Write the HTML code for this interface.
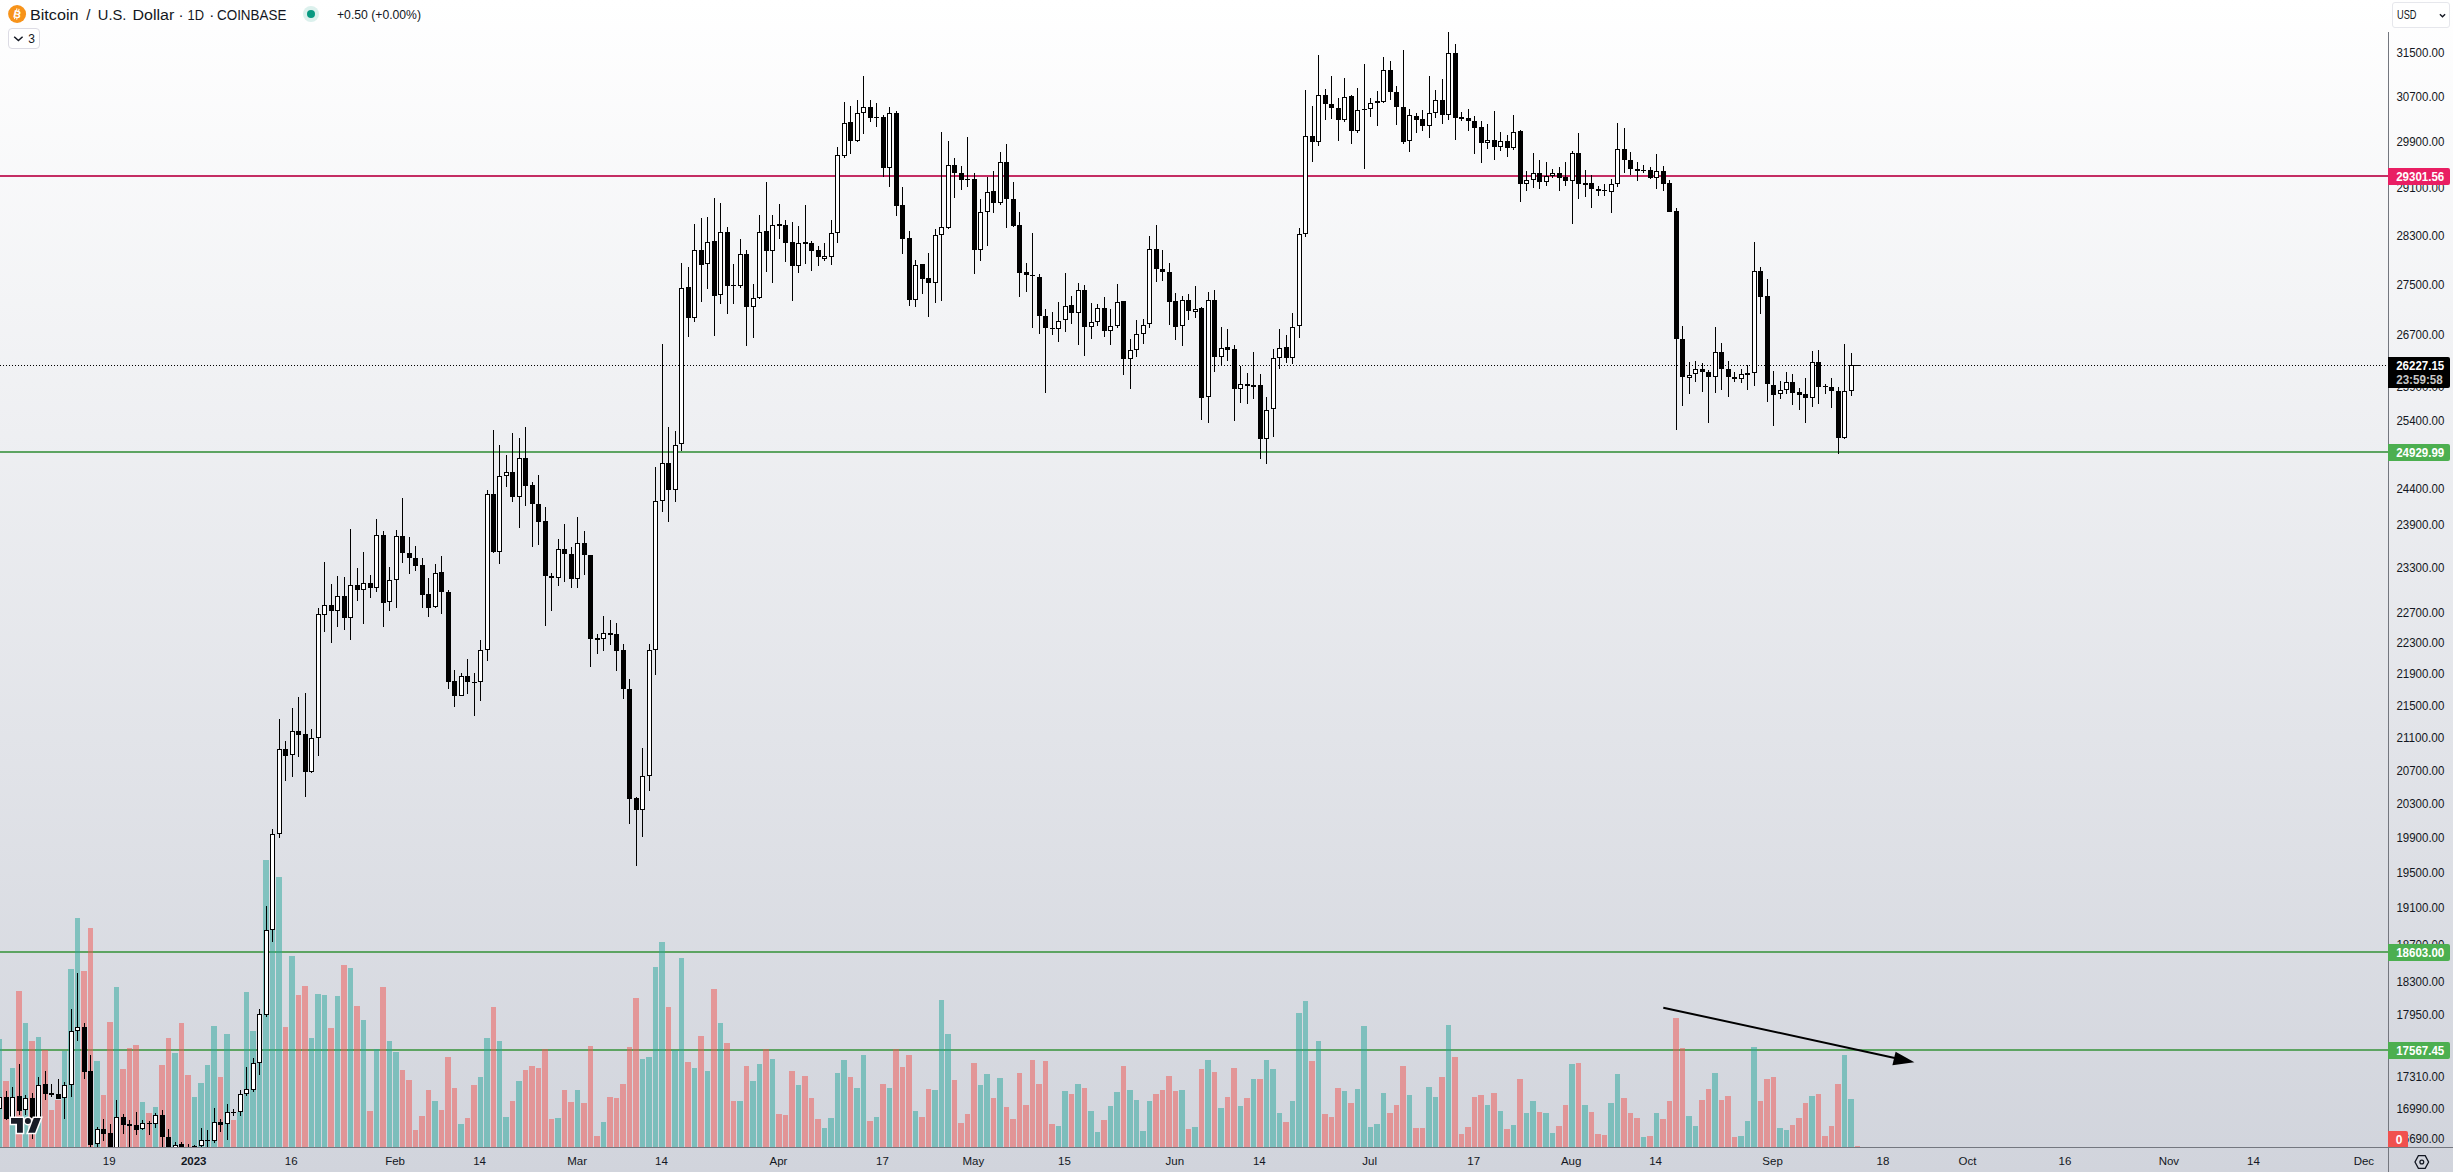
<!DOCTYPE html>
<html lang="en">
<head>
<meta charset="utf-8">
<title>Bitcoin / U.S. Dollar · 1D · COINBASE</title>
<style>
html,body{margin:0;padding:0;}
body{width:2453px;height:1172px;overflow:hidden;background:#d1d4dc;font-family:"Liberation Sans",sans-serif;}
#chart{position:absolute;left:0;top:0;width:2453px;height:1172px;background:linear-gradient(180deg,#ffffff 0%,#d1d4dc 100%);}
svg{position:absolute;left:0;top:0;}
svg text{font-family:"Liberation Sans",sans-serif;}
</style>
</head>
<body>
<div id="chart">
<svg width="2453" height="1172" viewBox="0 0 2453 1172">
<defs>
<clipPath id="pane"><rect x="0" y="0" width="2388" height="1147"/></clipPath>
</defs>
<g shape-rendering="crispEdges">
<!-- horizontal levels -->
<rect x="0" y="175" width="2388" height="2" fill="#c42d64"/>
<rect x="0" y="451" width="2388" height="2" fill="#5da462"/>
<rect x="0" y="951" width="2388" height="2" fill="#5da462"/>
<rect x="0" y="1049" width="2388" height="2" fill="#5da462"/>
<line x1="0" y1="365.5" x2="2388" y2="365.5" stroke="#000" stroke-width="1" stroke-dasharray="1 2"/>
</g>
<g id="volume" shape-rendering="crispEdges" clip-path="url(#pane)">
<rect x="-3" y="1039" width="5" height="108" fill="rgba(38,166,154,0.5)"/>
<rect x="3" y="1081" width="6" height="66" fill="rgba(239,83,80,0.5)"/>
<rect x="10" y="1068" width="5" height="79" fill="rgba(38,166,154,0.5)"/>
<rect x="16" y="991" width="6" height="156" fill="rgba(239,83,80,0.5)"/>
<rect x="23" y="1023" width="5" height="124" fill="rgba(38,166,154,0.5)"/>
<rect x="29" y="1041" width="6" height="106" fill="rgba(239,83,80,0.5)"/>
<rect x="36" y="1037" width="5" height="110" fill="rgba(38,166,154,0.5)"/>
<rect x="42" y="1050" width="6" height="97" fill="rgba(239,83,80,0.5)"/>
<rect x="49" y="1110" width="5" height="37" fill="rgba(239,83,80,0.5)"/>
<rect x="55" y="1100" width="6" height="47" fill="rgba(239,83,80,0.5)"/>
<rect x="62" y="1051" width="5" height="96" fill="rgba(38,166,154,0.5)"/>
<rect x="68" y="969" width="6" height="178" fill="rgba(38,166,154,0.5)"/>
<rect x="75" y="918" width="5" height="229" fill="rgba(38,166,154,0.5)"/>
<rect x="81" y="971" width="6" height="176" fill="rgba(239,83,80,0.5)"/>
<rect x="88" y="928" width="5" height="219" fill="rgba(239,83,80,0.5)"/>
<rect x="94" y="1061" width="6" height="86" fill="rgba(38,166,154,0.5)"/>
<rect x="101" y="1095" width="5" height="52" fill="rgba(239,83,80,0.5)"/>
<rect x="107" y="1022" width="6" height="125" fill="rgba(239,83,80,0.5)"/>
<rect x="114" y="987" width="5" height="160" fill="rgba(38,166,154,0.5)"/>
<rect x="120" y="1069" width="6" height="78" fill="rgba(239,83,80,0.5)"/>
<rect x="127" y="1048" width="5" height="99" fill="rgba(239,83,80,0.5)"/>
<rect x="133" y="1045" width="6" height="102" fill="rgba(239,83,80,0.5)"/>
<rect x="140" y="1102" width="5" height="45" fill="rgba(38,166,154,0.5)"/>
<rect x="146" y="1113" width="6" height="34" fill="rgba(239,83,80,0.5)"/>
<rect x="153" y="1107" width="5" height="40" fill="rgba(38,166,154,0.5)"/>
<rect x="159" y="1065" width="6" height="82" fill="rgba(239,83,80,0.5)"/>
<rect x="166" y="1038" width="5" height="109" fill="rgba(239,83,80,0.5)"/>
<rect x="172" y="1053" width="6" height="94" fill="rgba(38,166,154,0.5)"/>
<rect x="179" y="1023" width="5" height="124" fill="rgba(239,83,80,0.5)"/>
<rect x="185" y="1075" width="6" height="72" fill="rgba(239,83,80,0.5)"/>
<rect x="192" y="1097" width="5" height="50" fill="rgba(38,166,154,0.5)"/>
<rect x="198" y="1083" width="6" height="64" fill="rgba(38,166,154,0.5)"/>
<rect x="205" y="1065" width="5" height="82" fill="rgba(38,166,154,0.5)"/>
<rect x="211" y="1026" width="6" height="121" fill="rgba(38,166,154,0.5)"/>
<rect x="218" y="1077" width="5" height="70" fill="rgba(239,83,80,0.5)"/>
<rect x="224" y="1034" width="6" height="113" fill="rgba(38,166,154,0.5)"/>
<rect x="231" y="1120" width="5" height="27" fill="rgba(239,83,80,0.5)"/>
<rect x="237" y="1112" width="6" height="35" fill="rgba(38,166,154,0.5)"/>
<rect x="244" y="992" width="5" height="155" fill="rgba(38,166,154,0.5)"/>
<rect x="250" y="1031" width="6" height="116" fill="rgba(38,166,154,0.5)"/>
<rect x="257" y="1021" width="5" height="126" fill="rgba(38,166,154,0.5)"/>
<rect x="263" y="860" width="6" height="287" fill="rgba(38,166,154,0.5)"/>
<rect x="270" y="871" width="5" height="276" fill="rgba(38,166,154,0.5)"/>
<rect x="276" y="877" width="6" height="270" fill="rgba(38,166,154,0.5)"/>
<rect x="283" y="1027" width="5" height="120" fill="rgba(239,83,80,0.5)"/>
<rect x="289" y="956" width="6" height="191" fill="rgba(38,166,154,0.5)"/>
<rect x="296" y="995" width="5" height="152" fill="rgba(239,83,80,0.5)"/>
<rect x="302" y="986" width="6" height="161" fill="rgba(239,83,80,0.5)"/>
<rect x="309" y="1038" width="5" height="109" fill="rgba(38,166,154,0.5)"/>
<rect x="315" y="994" width="6" height="153" fill="rgba(38,166,154,0.5)"/>
<rect x="322" y="995" width="5" height="152" fill="rgba(38,166,154,0.5)"/>
<rect x="328" y="1028" width="6" height="119" fill="rgba(239,83,80,0.5)"/>
<rect x="335" y="996" width="5" height="151" fill="rgba(38,166,154,0.5)"/>
<rect x="341" y="965" width="6" height="182" fill="rgba(239,83,80,0.5)"/>
<rect x="348" y="968" width="5" height="179" fill="rgba(38,166,154,0.5)"/>
<rect x="354" y="1006" width="6" height="141" fill="rgba(239,83,80,0.5)"/>
<rect x="361" y="1020" width="5" height="127" fill="rgba(38,166,154,0.5)"/>
<rect x="367" y="1111" width="6" height="36" fill="rgba(239,83,80,0.5)"/>
<rect x="374" y="1049" width="5" height="98" fill="rgba(38,166,154,0.5)"/>
<rect x="380" y="987" width="6" height="160" fill="rgba(239,83,80,0.5)"/>
<rect x="387" y="1041" width="5" height="106" fill="rgba(38,166,154,0.5)"/>
<rect x="393" y="1052" width="6" height="95" fill="rgba(38,166,154,0.5)"/>
<rect x="400" y="1070" width="5" height="77" fill="rgba(239,83,80,0.5)"/>
<rect x="406" y="1080" width="6" height="67" fill="rgba(239,83,80,0.5)"/>
<rect x="413" y="1130" width="5" height="17" fill="rgba(239,83,80,0.5)"/>
<rect x="419" y="1116" width="6" height="31" fill="rgba(239,83,80,0.5)"/>
<rect x="426" y="1090" width="5" height="57" fill="rgba(239,83,80,0.5)"/>
<rect x="432" y="1101" width="6" height="46" fill="rgba(38,166,154,0.5)"/>
<rect x="439" y="1110" width="5" height="37" fill="rgba(239,83,80,0.5)"/>
<rect x="445" y="1057" width="6" height="90" fill="rgba(239,83,80,0.5)"/>
<rect x="452" y="1088" width="5" height="59" fill="rgba(239,83,80,0.5)"/>
<rect x="458" y="1124" width="6" height="23" fill="rgba(38,166,154,0.5)"/>
<rect x="465" y="1118" width="5" height="29" fill="rgba(239,83,80,0.5)"/>
<rect x="471" y="1085" width="6" height="62" fill="rgba(239,83,80,0.5)"/>
<rect x="478" y="1077" width="5" height="70" fill="rgba(38,166,154,0.5)"/>
<rect x="484" y="1038" width="6" height="109" fill="rgba(38,166,154,0.5)"/>
<rect x="491" y="1007" width="5" height="140" fill="rgba(239,83,80,0.5)"/>
<rect x="497" y="1041" width="5" height="106" fill="rgba(38,166,154,0.5)"/>
<rect x="503" y="1117" width="6" height="30" fill="rgba(38,166,154,0.5)"/>
<rect x="510" y="1101" width="5" height="46" fill="rgba(239,83,80,0.5)"/>
<rect x="516" y="1081" width="6" height="66" fill="rgba(38,166,154,0.5)"/>
<rect x="523" y="1070" width="5" height="77" fill="rgba(239,83,80,0.5)"/>
<rect x="529" y="1066" width="6" height="81" fill="rgba(239,83,80,0.5)"/>
<rect x="536" y="1068" width="5" height="79" fill="rgba(239,83,80,0.5)"/>
<rect x="542" y="1049" width="6" height="98" fill="rgba(239,83,80,0.5)"/>
<rect x="549" y="1119" width="5" height="28" fill="rgba(239,83,80,0.5)"/>
<rect x="555" y="1118" width="6" height="29" fill="rgba(38,166,154,0.5)"/>
<rect x="562" y="1090" width="5" height="57" fill="rgba(239,83,80,0.5)"/>
<rect x="568" y="1102" width="6" height="45" fill="rgba(239,83,80,0.5)"/>
<rect x="575" y="1090" width="5" height="57" fill="rgba(38,166,154,0.5)"/>
<rect x="581" y="1103" width="6" height="44" fill="rgba(239,83,80,0.5)"/>
<rect x="588" y="1046" width="5" height="101" fill="rgba(239,83,80,0.5)"/>
<rect x="594" y="1136" width="6" height="11" fill="rgba(239,83,80,0.5)"/>
<rect x="601" y="1122" width="5" height="25" fill="rgba(38,166,154,0.5)"/>
<rect x="607" y="1097" width="6" height="50" fill="rgba(239,83,80,0.5)"/>
<rect x="614" y="1098" width="5" height="49" fill="rgba(239,83,80,0.5)"/>
<rect x="620" y="1084" width="6" height="63" fill="rgba(239,83,80,0.5)"/>
<rect x="627" y="1047" width="5" height="100" fill="rgba(239,83,80,0.5)"/>
<rect x="633" y="998" width="6" height="149" fill="rgba(239,83,80,0.5)"/>
<rect x="640" y="1059" width="5" height="88" fill="rgba(38,166,154,0.5)"/>
<rect x="646" y="1057" width="6" height="90" fill="rgba(38,166,154,0.5)"/>
<rect x="653" y="967" width="5" height="180" fill="rgba(38,166,154,0.5)"/>
<rect x="659" y="942" width="6" height="205" fill="rgba(38,166,154,0.5)"/>
<rect x="666" y="1007" width="5" height="140" fill="rgba(239,83,80,0.5)"/>
<rect x="672" y="1050" width="6" height="97" fill="rgba(38,166,154,0.5)"/>
<rect x="679" y="958" width="5" height="189" fill="rgba(38,166,154,0.5)"/>
<rect x="685" y="1062" width="6" height="85" fill="rgba(239,83,80,0.5)"/>
<rect x="692" y="1068" width="5" height="79" fill="rgba(38,166,154,0.5)"/>
<rect x="698" y="1036" width="6" height="111" fill="rgba(239,83,80,0.5)"/>
<rect x="705" y="1071" width="5" height="76" fill="rgba(38,166,154,0.5)"/>
<rect x="711" y="989" width="6" height="158" fill="rgba(239,83,80,0.5)"/>
<rect x="718" y="1023" width="5" height="124" fill="rgba(38,166,154,0.5)"/>
<rect x="724" y="1043" width="6" height="104" fill="rgba(239,83,80,0.5)"/>
<rect x="731" y="1101" width="5" height="46" fill="rgba(239,83,80,0.5)"/>
<rect x="737" y="1101" width="6" height="46" fill="rgba(38,166,154,0.5)"/>
<rect x="744" y="1066" width="5" height="81" fill="rgba(239,83,80,0.5)"/>
<rect x="750" y="1081" width="6" height="66" fill="rgba(38,166,154,0.5)"/>
<rect x="757" y="1064" width="5" height="83" fill="rgba(38,166,154,0.5)"/>
<rect x="763" y="1049" width="6" height="98" fill="rgba(239,83,80,0.5)"/>
<rect x="770" y="1059" width="5" height="88" fill="rgba(38,166,154,0.5)"/>
<rect x="776" y="1114" width="6" height="33" fill="rgba(239,83,80,0.5)"/>
<rect x="783" y="1115" width="5" height="32" fill="rgba(239,83,80,0.5)"/>
<rect x="789" y="1071" width="6" height="76" fill="rgba(239,83,80,0.5)"/>
<rect x="796" y="1085" width="5" height="62" fill="rgba(38,166,154,0.5)"/>
<rect x="802" y="1076" width="6" height="71" fill="rgba(239,83,80,0.5)"/>
<rect x="809" y="1098" width="5" height="49" fill="rgba(239,83,80,0.5)"/>
<rect x="815" y="1119" width="6" height="28" fill="rgba(239,83,80,0.5)"/>
<rect x="822" y="1128" width="5" height="19" fill="rgba(38,166,154,0.5)"/>
<rect x="828" y="1118" width="6" height="29" fill="rgba(38,166,154,0.5)"/>
<rect x="835" y="1073" width="5" height="74" fill="rgba(38,166,154,0.5)"/>
<rect x="841" y="1060" width="6" height="87" fill="rgba(38,166,154,0.5)"/>
<rect x="848" y="1077" width="5" height="70" fill="rgba(239,83,80,0.5)"/>
<rect x="854" y="1088" width="6" height="59" fill="rgba(38,166,154,0.5)"/>
<rect x="861" y="1055" width="5" height="92" fill="rgba(38,166,154,0.5)"/>
<rect x="867" y="1121" width="6" height="26" fill="rgba(239,83,80,0.5)"/>
<rect x="874" y="1117" width="5" height="30" fill="rgba(38,166,154,0.5)"/>
<rect x="880" y="1084" width="6" height="63" fill="rgba(239,83,80,0.5)"/>
<rect x="887" y="1088" width="5" height="59" fill="rgba(38,166,154,0.5)"/>
<rect x="893" y="1049" width="6" height="98" fill="rgba(239,83,80,0.5)"/>
<rect x="900" y="1067" width="5" height="80" fill="rgba(239,83,80,0.5)"/>
<rect x="906" y="1055" width="6" height="92" fill="rgba(239,83,80,0.5)"/>
<rect x="913" y="1111" width="5" height="36" fill="rgba(38,166,154,0.5)"/>
<rect x="919" y="1117" width="6" height="30" fill="rgba(239,83,80,0.5)"/>
<rect x="926" y="1089" width="5" height="58" fill="rgba(239,83,80,0.5)"/>
<rect x="932" y="1090" width="6" height="57" fill="rgba(38,166,154,0.5)"/>
<rect x="939" y="1000" width="5" height="147" fill="rgba(38,166,154,0.5)"/>
<rect x="945" y="1034" width="6" height="113" fill="rgba(38,166,154,0.5)"/>
<rect x="952" y="1080" width="5" height="67" fill="rgba(239,83,80,0.5)"/>
<rect x="958" y="1123" width="6" height="24" fill="rgba(239,83,80,0.5)"/>
<rect x="965" y="1114" width="5" height="33" fill="rgba(239,83,80,0.5)"/>
<rect x="971" y="1063" width="6" height="84" fill="rgba(239,83,80,0.5)"/>
<rect x="978" y="1085" width="5" height="62" fill="rgba(38,166,154,0.5)"/>
<rect x="984" y="1074" width="6" height="73" fill="rgba(38,166,154,0.5)"/>
<rect x="991" y="1098" width="5" height="49" fill="rgba(239,83,80,0.5)"/>
<rect x="997" y="1078" width="6" height="69" fill="rgba(38,166,154,0.5)"/>
<rect x="1004" y="1107" width="5" height="40" fill="rgba(239,83,80,0.5)"/>
<rect x="1010" y="1119" width="6" height="28" fill="rgba(239,83,80,0.5)"/>
<rect x="1017" y="1073" width="5" height="74" fill="rgba(239,83,80,0.5)"/>
<rect x="1023" y="1105" width="6" height="42" fill="rgba(239,83,80,0.5)"/>
<rect x="1030" y="1060" width="5" height="87" fill="rgba(239,83,80,0.5)"/>
<rect x="1036" y="1084" width="6" height="63" fill="rgba(239,83,80,0.5)"/>
<rect x="1043" y="1061" width="5" height="86" fill="rgba(239,83,80,0.5)"/>
<rect x="1049" y="1124" width="6" height="23" fill="rgba(239,83,80,0.5)"/>
<rect x="1056" y="1126" width="5" height="21" fill="rgba(38,166,154,0.5)"/>
<rect x="1062" y="1091" width="6" height="56" fill="rgba(38,166,154,0.5)"/>
<rect x="1069" y="1094" width="5" height="53" fill="rgba(239,83,80,0.5)"/>
<rect x="1075" y="1084" width="6" height="63" fill="rgba(38,166,154,0.5)"/>
<rect x="1082" y="1088" width="5" height="59" fill="rgba(239,83,80,0.5)"/>
<rect x="1088" y="1111" width="6" height="36" fill="rgba(38,166,154,0.5)"/>
<rect x="1095" y="1132" width="5" height="15" fill="rgba(38,166,154,0.5)"/>
<rect x="1101" y="1120" width="6" height="27" fill="rgba(239,83,80,0.5)"/>
<rect x="1108" y="1106" width="5" height="41" fill="rgba(38,166,154,0.5)"/>
<rect x="1114" y="1092" width="6" height="55" fill="rgba(38,166,154,0.5)"/>
<rect x="1121" y="1066" width="5" height="81" fill="rgba(239,83,80,0.5)"/>
<rect x="1127" y="1090" width="6" height="57" fill="rgba(38,166,154,0.5)"/>
<rect x="1134" y="1100" width="5" height="47" fill="rgba(38,166,154,0.5)"/>
<rect x="1140" y="1131" width="6" height="16" fill="rgba(38,166,154,0.5)"/>
<rect x="1147" y="1101" width="5" height="46" fill="rgba(38,166,154,0.5)"/>
<rect x="1153" y="1094" width="6" height="53" fill="rgba(239,83,80,0.5)"/>
<rect x="1160" y="1090" width="5" height="57" fill="rgba(239,83,80,0.5)"/>
<rect x="1166" y="1076" width="6" height="71" fill="rgba(239,83,80,0.5)"/>
<rect x="1173" y="1091" width="5" height="56" fill="rgba(239,83,80,0.5)"/>
<rect x="1179" y="1090" width="6" height="57" fill="rgba(38,166,154,0.5)"/>
<rect x="1186" y="1129" width="5" height="18" fill="rgba(239,83,80,0.5)"/>
<rect x="1192" y="1127" width="6" height="20" fill="rgba(38,166,154,0.5)"/>
<rect x="1199" y="1069" width="5" height="78" fill="rgba(239,83,80,0.5)"/>
<rect x="1205" y="1060" width="6" height="87" fill="rgba(38,166,154,0.5)"/>
<rect x="1212" y="1072" width="5" height="75" fill="rgba(239,83,80,0.5)"/>
<rect x="1218" y="1108" width="6" height="39" fill="rgba(38,166,154,0.5)"/>
<rect x="1225" y="1097" width="5" height="50" fill="rgba(239,83,80,0.5)"/>
<rect x="1231" y="1068" width="6" height="79" fill="rgba(239,83,80,0.5)"/>
<rect x="1238" y="1106" width="5" height="41" fill="rgba(38,166,154,0.5)"/>
<rect x="1244" y="1098" width="6" height="49" fill="rgba(239,83,80,0.5)"/>
<rect x="1251" y="1079" width="5" height="68" fill="rgba(38,166,154,0.5)"/>
<rect x="1257" y="1079" width="6" height="68" fill="rgba(239,83,80,0.5)"/>
<rect x="1264" y="1060" width="5" height="87" fill="rgba(38,166,154,0.5)"/>
<rect x="1270" y="1069" width="6" height="78" fill="rgba(38,166,154,0.5)"/>
<rect x="1277" y="1113" width="5" height="34" fill="rgba(38,166,154,0.5)"/>
<rect x="1283" y="1122" width="6" height="25" fill="rgba(239,83,80,0.5)"/>
<rect x="1290" y="1101" width="5" height="46" fill="rgba(38,166,154,0.5)"/>
<rect x="1296" y="1013" width="6" height="134" fill="rgba(38,166,154,0.5)"/>
<rect x="1303" y="1001" width="5" height="146" fill="rgba(38,166,154,0.5)"/>
<rect x="1309" y="1061" width="6" height="86" fill="rgba(239,83,80,0.5)"/>
<rect x="1316" y="1041" width="5" height="106" fill="rgba(38,166,154,0.5)"/>
<rect x="1322" y="1114" width="6" height="33" fill="rgba(239,83,80,0.5)"/>
<rect x="1329" y="1117" width="5" height="30" fill="rgba(239,83,80,0.5)"/>
<rect x="1335" y="1088" width="6" height="59" fill="rgba(239,83,80,0.5)"/>
<rect x="1342" y="1091" width="5" height="56" fill="rgba(38,166,154,0.5)"/>
<rect x="1348" y="1103" width="6" height="44" fill="rgba(239,83,80,0.5)"/>
<rect x="1355" y="1089" width="5" height="58" fill="rgba(38,166,154,0.5)"/>
<rect x="1361" y="1026" width="6" height="121" fill="rgba(38,166,154,0.5)"/>
<rect x="1368" y="1127" width="5" height="20" fill="rgba(38,166,154,0.5)"/>
<rect x="1374" y="1124" width="6" height="23" fill="rgba(38,166,154,0.5)"/>
<rect x="1381" y="1093" width="5" height="54" fill="rgba(38,166,154,0.5)"/>
<rect x="1387" y="1113" width="6" height="34" fill="rgba(239,83,80,0.5)"/>
<rect x="1394" y="1105" width="5" height="42" fill="rgba(239,83,80,0.5)"/>
<rect x="1400" y="1066" width="6" height="81" fill="rgba(239,83,80,0.5)"/>
<rect x="1407" y="1095" width="5" height="52" fill="rgba(38,166,154,0.5)"/>
<rect x="1413" y="1128" width="6" height="19" fill="rgba(239,83,80,0.5)"/>
<rect x="1420" y="1128" width="5" height="19" fill="rgba(239,83,80,0.5)"/>
<rect x="1426" y="1087" width="6" height="60" fill="rgba(38,166,154,0.5)"/>
<rect x="1433" y="1097" width="5" height="50" fill="rgba(38,166,154,0.5)"/>
<rect x="1439" y="1077" width="6" height="70" fill="rgba(239,83,80,0.5)"/>
<rect x="1446" y="1025" width="5" height="122" fill="rgba(38,166,154,0.5)"/>
<rect x="1452" y="1057" width="6" height="90" fill="rgba(239,83,80,0.5)"/>
<rect x="1459" y="1134" width="5" height="13" fill="rgba(239,83,80,0.5)"/>
<rect x="1465" y="1127" width="6" height="20" fill="rgba(239,83,80,0.5)"/>
<rect x="1472" y="1097" width="5" height="50" fill="rgba(239,83,80,0.5)"/>
<rect x="1478" y="1095" width="6" height="52" fill="rgba(239,83,80,0.5)"/>
<rect x="1485" y="1105" width="5" height="42" fill="rgba(38,166,154,0.5)"/>
<rect x="1491" y="1093" width="6" height="54" fill="rgba(239,83,80,0.5)"/>
<rect x="1498" y="1111" width="5" height="36" fill="rgba(38,166,154,0.5)"/>
<rect x="1504" y="1129" width="6" height="18" fill="rgba(239,83,80,0.5)"/>
<rect x="1511" y="1125" width="5" height="22" fill="rgba(38,166,154,0.5)"/>
<rect x="1517" y="1079" width="6" height="68" fill="rgba(239,83,80,0.5)"/>
<rect x="1524" y="1113" width="5" height="34" fill="rgba(38,166,154,0.5)"/>
<rect x="1530" y="1101" width="6" height="46" fill="rgba(38,166,154,0.5)"/>
<rect x="1537" y="1112" width="5" height="35" fill="rgba(239,83,80,0.5)"/>
<rect x="1543" y="1113" width="6" height="34" fill="rgba(38,166,154,0.5)"/>
<rect x="1550" y="1133" width="5" height="14" fill="rgba(38,166,154,0.5)"/>
<rect x="1556" y="1126" width="6" height="21" fill="rgba(239,83,80,0.5)"/>
<rect x="1563" y="1105" width="5" height="42" fill="rgba(239,83,80,0.5)"/>
<rect x="1569" y="1064" width="6" height="83" fill="rgba(38,166,154,0.5)"/>
<rect x="1576" y="1063" width="5" height="84" fill="rgba(239,83,80,0.5)"/>
<rect x="1582" y="1105" width="6" height="42" fill="rgba(38,166,154,0.5)"/>
<rect x="1589" y="1112" width="5" height="35" fill="rgba(239,83,80,0.5)"/>
<rect x="1595" y="1134" width="6" height="13" fill="rgba(239,83,80,0.5)"/>
<rect x="1602" y="1135" width="5" height="12" fill="rgba(239,83,80,0.5)"/>
<rect x="1608" y="1103" width="6" height="44" fill="rgba(38,166,154,0.5)"/>
<rect x="1615" y="1074" width="5" height="73" fill="rgba(38,166,154,0.5)"/>
<rect x="1621" y="1098" width="6" height="49" fill="rgba(239,83,80,0.5)"/>
<rect x="1628" y="1113" width="5" height="34" fill="rgba(239,83,80,0.5)"/>
<rect x="1634" y="1118" width="6" height="29" fill="rgba(239,83,80,0.5)"/>
<rect x="1641" y="1137" width="5" height="10" fill="rgba(38,166,154,0.5)"/>
<rect x="1647" y="1136" width="6" height="11" fill="rgba(239,83,80,0.5)"/>
<rect x="1654" y="1113" width="5" height="34" fill="rgba(38,166,154,0.5)"/>
<rect x="1660" y="1119" width="6" height="28" fill="rgba(239,83,80,0.5)"/>
<rect x="1667" y="1101" width="5" height="46" fill="rgba(239,83,80,0.5)"/>
<rect x="1673" y="1018" width="6" height="129" fill="rgba(239,83,80,0.5)"/>
<rect x="1680" y="1048" width="5" height="99" fill="rgba(239,83,80,0.5)"/>
<rect x="1686" y="1116" width="6" height="31" fill="rgba(38,166,154,0.5)"/>
<rect x="1693" y="1126" width="5" height="21" fill="rgba(38,166,154,0.5)"/>
<rect x="1699" y="1100" width="6" height="47" fill="rgba(239,83,80,0.5)"/>
<rect x="1706" y="1089" width="5" height="58" fill="rgba(239,83,80,0.5)"/>
<rect x="1712" y="1073" width="6" height="74" fill="rgba(38,166,154,0.5)"/>
<rect x="1719" y="1100" width="5" height="47" fill="rgba(239,83,80,0.5)"/>
<rect x="1725" y="1096" width="6" height="51" fill="rgba(239,83,80,0.5)"/>
<rect x="1732" y="1137" width="5" height="10" fill="rgba(239,83,80,0.5)"/>
<rect x="1738" y="1136" width="6" height="11" fill="rgba(38,166,154,0.5)"/>
<rect x="1745" y="1121" width="5" height="26" fill="rgba(38,166,154,0.5)"/>
<rect x="1751" y="1047" width="6" height="100" fill="rgba(38,166,154,0.5)"/>
<rect x="1758" y="1101" width="5" height="46" fill="rgba(239,83,80,0.5)"/>
<rect x="1764" y="1079" width="6" height="68" fill="rgba(239,83,80,0.5)"/>
<rect x="1771" y="1077" width="5" height="70" fill="rgba(239,83,80,0.5)"/>
<rect x="1777" y="1128" width="6" height="19" fill="rgba(38,166,154,0.5)"/>
<rect x="1784" y="1130" width="5" height="17" fill="rgba(38,166,154,0.5)"/>
<rect x="1790" y="1125" width="5" height="22" fill="rgba(239,83,80,0.5)"/>
<rect x="1796" y="1118" width="6" height="29" fill="rgba(239,83,80,0.5)"/>
<rect x="1803" y="1103" width="5" height="44" fill="rgba(239,83,80,0.5)"/>
<rect x="1809" y="1096" width="6" height="51" fill="rgba(38,166,154,0.5)"/>
<rect x="1816" y="1094" width="5" height="53" fill="rgba(239,83,80,0.5)"/>
<rect x="1822" y="1136" width="6" height="11" fill="rgba(239,83,80,0.5)"/>
<rect x="1829" y="1126" width="5" height="21" fill="rgba(239,83,80,0.5)"/>
<rect x="1835" y="1084" width="6" height="63" fill="rgba(239,83,80,0.5)"/>
<rect x="1842" y="1055" width="5" height="92" fill="rgba(38,166,154,0.5)"/>
<rect x="1848" y="1099" width="6" height="48" fill="rgba(38,166,154,0.5)"/>
<rect x="1855" y="1146" width="5" height="1" fill="rgba(239,83,80,0.5)"/>
</g>
<g id="candles" shape-rendering="crispEdges" clip-path="url(#pane)">
<rect x="-1" y="1091" width="1" height="21" fill="#000"/>
<rect x="-3" y="1097" width="5" height="12" fill="#000"/>
<rect x="-2" y="1098" width="3" height="10" fill="#fff"/>
<rect x="6" y="1091" width="1" height="29" fill="#000"/>
<rect x="4" y="1097" width="5" height="22" fill="#000"/>
<rect x="12" y="1087" width="1" height="32" fill="#000"/>
<rect x="10" y="1097" width="5" height="21" fill="#000"/>
<rect x="11" y="1098" width="3" height="19" fill="#fff"/>
<rect x="19" y="1064" width="1" height="51" fill="#000"/>
<rect x="17" y="1096" width="5" height="15" fill="#000"/>
<rect x="25" y="1095" width="1" height="20" fill="#000"/>
<rect x="23" y="1098" width="5" height="12" fill="#000"/>
<rect x="24" y="1099" width="3" height="10" fill="#fff"/>
<rect x="32" y="1093" width="1" height="46" fill="#000"/>
<rect x="30" y="1098" width="5" height="20" fill="#000"/>
<rect x="38" y="1077" width="1" height="42" fill="#000"/>
<rect x="36" y="1085" width="5" height="33" fill="#000"/>
<rect x="37" y="1086" width="3" height="31" fill="#fff"/>
<rect x="45" y="1071" width="1" height="29" fill="#000"/>
<rect x="43" y="1084" width="5" height="10" fill="#000"/>
<rect x="51" y="1084" width="1" height="13" fill="#000"/>
<rect x="49" y="1093" width="5" height="2" fill="#000"/>
<rect x="58" y="1079" width="1" height="20" fill="#000"/>
<rect x="56" y="1094" width="5" height="5" fill="#000"/>
<rect x="64" y="1082" width="1" height="37" fill="#000"/>
<rect x="62" y="1085" width="5" height="13" fill="#000"/>
<rect x="63" y="1086" width="3" height="11" fill="#fff"/>
<rect x="71" y="1009" width="1" height="88" fill="#000"/>
<rect x="69" y="1031" width="5" height="54" fill="#000"/>
<rect x="70" y="1032" width="3" height="52" fill="#fff"/>
<rect x="77" y="973" width="1" height="68" fill="#000"/>
<rect x="75" y="1027" width="5" height="4" fill="#000"/>
<rect x="76" y="1028" width="3" height="2" fill="#fff"/>
<rect x="84" y="1023" width="1" height="56" fill="#000"/>
<rect x="82" y="1027" width="5" height="45" fill="#000"/>
<rect x="90" y="1055" width="1" height="92" fill="#000"/>
<rect x="88" y="1071" width="5" height="74" fill="#000"/>
<rect x="97" y="1127" width="1" height="20" fill="#000"/>
<rect x="95" y="1129" width="5" height="15" fill="#000"/>
<rect x="96" y="1130" width="3" height="13" fill="#fff"/>
<rect x="103" y="1119" width="1" height="22" fill="#000"/>
<rect x="101" y="1129" width="5" height="5" fill="#000"/>
<rect x="110" y="1124" width="1" height="32" fill="#000"/>
<rect x="108" y="1133" width="5" height="20" fill="#000"/>
<rect x="116" y="1100" width="1" height="54" fill="#000"/>
<rect x="114" y="1117" width="5" height="36" fill="#000"/>
<rect x="115" y="1118" width="3" height="34" fill="#fff"/>
<rect x="123" y="1114" width="1" height="20" fill="#000"/>
<rect x="121" y="1117" width="5" height="8" fill="#000"/>
<rect x="129" y="1120" width="1" height="27" fill="#000"/>
<rect x="127" y="1124" width="5" height="2" fill="#000"/>
<rect x="136" y="1112" width="1" height="23" fill="#000"/>
<rect x="134" y="1125" width="5" height="5" fill="#000"/>
<rect x="142" y="1120" width="1" height="10" fill="#000"/>
<rect x="140" y="1123" width="5" height="6" fill="#000"/>
<rect x="141" y="1124" width="3" height="4" fill="#fff"/>
<rect x="149" y="1121" width="1" height="14" fill="#000"/>
<rect x="147" y="1123" width="5" height="1" fill="#000"/>
<rect x="155" y="1113" width="1" height="15" fill="#000"/>
<rect x="153" y="1115" width="5" height="9" fill="#000"/>
<rect x="154" y="1116" width="3" height="7" fill="#fff"/>
<rect x="162" y="1110" width="1" height="37" fill="#000"/>
<rect x="160" y="1115" width="5" height="22" fill="#000"/>
<rect x="168" y="1129" width="1" height="24" fill="#000"/>
<rect x="166" y="1137" width="5" height="12" fill="#000"/>
<rect x="175" y="1142" width="1" height="11" fill="#000"/>
<rect x="173" y="1145" width="5" height="4" fill="#000"/>
<rect x="174" y="1146" width="3" height="2" fill="#fff"/>
<rect x="181" y="1142" width="1" height="11" fill="#000"/>
<rect x="179" y="1144" width="5" height="4" fill="#000"/>
<rect x="188" y="1144" width="1" height="9" fill="#000"/>
<rect x="186" y="1147" width="5" height="1" fill="#000"/>
<rect x="194" y="1145" width="1" height="6" fill="#000"/>
<rect x="192" y="1146" width="5" height="2" fill="#000"/>
<rect x="201" y="1128" width="1" height="19" fill="#000"/>
<rect x="199" y="1140" width="5" height="6" fill="#000"/>
<rect x="200" y="1141" width="3" height="4" fill="#fff"/>
<rect x="207" y="1130" width="1" height="17" fill="#000"/>
<rect x="205" y="1140" width="5" height="1" fill="#000"/>
<rect x="214" y="1108" width="1" height="35" fill="#000"/>
<rect x="212" y="1122" width="5" height="19" fill="#000"/>
<rect x="213" y="1123" width="3" height="17" fill="#fff"/>
<rect x="220" y="1119" width="1" height="13" fill="#000"/>
<rect x="218" y="1122" width="5" height="3" fill="#000"/>
<rect x="227" y="1104" width="1" height="36" fill="#000"/>
<rect x="225" y="1112" width="5" height="12" fill="#000"/>
<rect x="226" y="1113" width="3" height="10" fill="#fff"/>
<rect x="233" y="1109" width="1" height="7" fill="#000"/>
<rect x="231" y="1112" width="5" height="1" fill="#000"/>
<rect x="240" y="1090" width="1" height="26" fill="#000"/>
<rect x="238" y="1094" width="5" height="18" fill="#000"/>
<rect x="239" y="1095" width="3" height="16" fill="#fff"/>
<rect x="246" y="1067" width="1" height="29" fill="#000"/>
<rect x="244" y="1089" width="5" height="5" fill="#000"/>
<rect x="245" y="1090" width="3" height="3" fill="#fff"/>
<rect x="253" y="1058" width="1" height="34" fill="#000"/>
<rect x="251" y="1063" width="5" height="27" fill="#000"/>
<rect x="252" y="1064" width="3" height="25" fill="#fff"/>
<rect x="259" y="1009" width="1" height="66" fill="#000"/>
<rect x="257" y="1014" width="5" height="49" fill="#000"/>
<rect x="258" y="1015" width="3" height="47" fill="#fff"/>
<rect x="266" y="906" width="1" height="111" fill="#000"/>
<rect x="264" y="930" width="5" height="85" fill="#000"/>
<rect x="265" y="931" width="3" height="83" fill="#fff"/>
<rect x="272" y="829" width="1" height="113" fill="#000"/>
<rect x="270" y="834" width="5" height="96" fill="#000"/>
<rect x="271" y="835" width="3" height="94" fill="#fff"/>
<rect x="279" y="719" width="1" height="119" fill="#000"/>
<rect x="277" y="749" width="5" height="85" fill="#000"/>
<rect x="278" y="750" width="3" height="83" fill="#fff"/>
<rect x="285" y="741" width="1" height="40" fill="#000"/>
<rect x="283" y="749" width="5" height="7" fill="#000"/>
<rect x="292" y="708" width="1" height="69" fill="#000"/>
<rect x="290" y="731" width="5" height="24" fill="#000"/>
<rect x="291" y="732" width="3" height="22" fill="#fff"/>
<rect x="298" y="697" width="1" height="60" fill="#000"/>
<rect x="296" y="731" width="5" height="4" fill="#000"/>
<rect x="305" y="693" width="1" height="104" fill="#000"/>
<rect x="303" y="734" width="5" height="38" fill="#000"/>
<rect x="311" y="729" width="1" height="44" fill="#000"/>
<rect x="309" y="738" width="5" height="34" fill="#000"/>
<rect x="310" y="739" width="3" height="32" fill="#fff"/>
<rect x="318" y="608" width="1" height="148" fill="#000"/>
<rect x="316" y="614" width="5" height="124" fill="#000"/>
<rect x="317" y="615" width="3" height="122" fill="#fff"/>
<rect x="324" y="562" width="1" height="70" fill="#000"/>
<rect x="322" y="605" width="5" height="10" fill="#000"/>
<rect x="323" y="606" width="3" height="8" fill="#fff"/>
<rect x="331" y="584" width="1" height="59" fill="#000"/>
<rect x="329" y="605" width="5" height="6" fill="#000"/>
<rect x="337" y="576" width="1" height="51" fill="#000"/>
<rect x="335" y="596" width="5" height="15" fill="#000"/>
<rect x="336" y="597" width="3" height="13" fill="#fff"/>
<rect x="344" y="577" width="1" height="53" fill="#000"/>
<rect x="342" y="596" width="5" height="22" fill="#000"/>
<rect x="350" y="529" width="1" height="111" fill="#000"/>
<rect x="348" y="585" width="5" height="33" fill="#000"/>
<rect x="349" y="586" width="3" height="31" fill="#fff"/>
<rect x="357" y="568" width="1" height="33" fill="#000"/>
<rect x="355" y="585" width="5" height="5" fill="#000"/>
<rect x="363" y="552" width="1" height="72" fill="#000"/>
<rect x="361" y="583" width="5" height="7" fill="#000"/>
<rect x="362" y="584" width="3" height="5" fill="#fff"/>
<rect x="370" y="575" width="1" height="23" fill="#000"/>
<rect x="368" y="583" width="5" height="5" fill="#000"/>
<rect x="376" y="519" width="1" height="73" fill="#000"/>
<rect x="374" y="535" width="5" height="53" fill="#000"/>
<rect x="375" y="536" width="3" height="51" fill="#fff"/>
<rect x="383" y="531" width="1" height="96" fill="#000"/>
<rect x="381" y="535" width="5" height="68" fill="#000"/>
<rect x="389" y="567" width="1" height="44" fill="#000"/>
<rect x="387" y="580" width="5" height="22" fill="#000"/>
<rect x="388" y="581" width="3" height="20" fill="#fff"/>
<rect x="396" y="530" width="1" height="78" fill="#000"/>
<rect x="394" y="536" width="5" height="44" fill="#000"/>
<rect x="395" y="537" width="3" height="42" fill="#fff"/>
<rect x="402" y="498" width="1" height="65" fill="#000"/>
<rect x="400" y="536" width="5" height="17" fill="#000"/>
<rect x="409" y="537" width="1" height="37" fill="#000"/>
<rect x="407" y="553" width="5" height="5" fill="#000"/>
<rect x="415" y="546" width="1" height="25" fill="#000"/>
<rect x="413" y="558" width="5" height="8" fill="#000"/>
<rect x="422" y="558" width="1" height="50" fill="#000"/>
<rect x="420" y="565" width="5" height="30" fill="#000"/>
<rect x="428" y="578" width="1" height="39" fill="#000"/>
<rect x="426" y="594" width="5" height="14" fill="#000"/>
<rect x="435" y="564" width="1" height="44" fill="#000"/>
<rect x="433" y="573" width="5" height="34" fill="#000"/>
<rect x="434" y="574" width="3" height="32" fill="#fff"/>
<rect x="441" y="556" width="1" height="58" fill="#000"/>
<rect x="439" y="572" width="5" height="20" fill="#000"/>
<rect x="448" y="590" width="1" height="99" fill="#000"/>
<rect x="446" y="592" width="5" height="90" fill="#000"/>
<rect x="454" y="670" width="1" height="37" fill="#000"/>
<rect x="452" y="681" width="5" height="15" fill="#000"/>
<rect x="461" y="673" width="1" height="23" fill="#000"/>
<rect x="459" y="676" width="5" height="20" fill="#000"/>
<rect x="460" y="677" width="3" height="18" fill="#fff"/>
<rect x="467" y="659" width="1" height="35" fill="#000"/>
<rect x="465" y="676" width="5" height="6" fill="#000"/>
<rect x="474" y="673" width="1" height="43" fill="#000"/>
<rect x="472" y="682" width="5" height="1" fill="#000"/>
<rect x="480" y="640" width="1" height="61" fill="#000"/>
<rect x="478" y="650" width="5" height="32" fill="#000"/>
<rect x="479" y="651" width="3" height="30" fill="#fff"/>
<rect x="487" y="490" width="1" height="171" fill="#000"/>
<rect x="485" y="494" width="5" height="156" fill="#000"/>
<rect x="486" y="495" width="3" height="154" fill="#fff"/>
<rect x="493" y="430" width="1" height="123" fill="#000"/>
<rect x="491" y="494" width="5" height="58" fill="#000"/>
<rect x="499" y="445" width="1" height="119" fill="#000"/>
<rect x="497" y="476" width="5" height="76" fill="#000"/>
<rect x="498" y="477" width="3" height="74" fill="#fff"/>
<rect x="506" y="455" width="1" height="32" fill="#000"/>
<rect x="504" y="472" width="5" height="4" fill="#000"/>
<rect x="505" y="473" width="3" height="2" fill="#fff"/>
<rect x="512" y="433" width="1" height="69" fill="#000"/>
<rect x="510" y="472" width="5" height="25" fill="#000"/>
<rect x="519" y="438" width="1" height="90" fill="#000"/>
<rect x="517" y="458" width="5" height="39" fill="#000"/>
<rect x="518" y="459" width="3" height="37" fill="#fff"/>
<rect x="525" y="427" width="1" height="79" fill="#000"/>
<rect x="523" y="458" width="5" height="28" fill="#000"/>
<rect x="532" y="482" width="1" height="65" fill="#000"/>
<rect x="530" y="485" width="5" height="19" fill="#000"/>
<rect x="538" y="475" width="1" height="70" fill="#000"/>
<rect x="536" y="504" width="5" height="18" fill="#000"/>
<rect x="545" y="507" width="1" height="119" fill="#000"/>
<rect x="543" y="521" width="5" height="55" fill="#000"/>
<rect x="551" y="573" width="1" height="38" fill="#000"/>
<rect x="549" y="576" width="5" height="2" fill="#000"/>
<rect x="558" y="539" width="1" height="47" fill="#000"/>
<rect x="556" y="549" width="5" height="29" fill="#000"/>
<rect x="557" y="550" width="3" height="27" fill="#fff"/>
<rect x="564" y="524" width="1" height="58" fill="#000"/>
<rect x="562" y="549" width="5" height="5" fill="#000"/>
<rect x="571" y="547" width="1" height="41" fill="#000"/>
<rect x="569" y="554" width="5" height="25" fill="#000"/>
<rect x="577" y="517" width="1" height="71" fill="#000"/>
<rect x="575" y="543" width="5" height="36" fill="#000"/>
<rect x="576" y="544" width="3" height="34" fill="#fff"/>
<rect x="584" y="531" width="1" height="44" fill="#000"/>
<rect x="582" y="543" width="5" height="12" fill="#000"/>
<rect x="590" y="555" width="1" height="112" fill="#000"/>
<rect x="588" y="555" width="5" height="84" fill="#000"/>
<rect x="597" y="634" width="1" height="20" fill="#000"/>
<rect x="595" y="638" width="5" height="2" fill="#000"/>
<rect x="603" y="616" width="1" height="35" fill="#000"/>
<rect x="601" y="633" width="5" height="6" fill="#000"/>
<rect x="602" y="634" width="3" height="4" fill="#fff"/>
<rect x="610" y="620" width="1" height="25" fill="#000"/>
<rect x="608" y="633" width="5" height="2" fill="#000"/>
<rect x="616" y="623" width="1" height="48" fill="#000"/>
<rect x="614" y="634" width="5" height="17" fill="#000"/>
<rect x="623" y="644" width="1" height="55" fill="#000"/>
<rect x="621" y="650" width="5" height="39" fill="#000"/>
<rect x="629" y="679" width="1" height="145" fill="#000"/>
<rect x="627" y="689" width="5" height="110" fill="#000"/>
<rect x="636" y="797" width="1" height="69" fill="#000"/>
<rect x="634" y="798" width="5" height="12" fill="#000"/>
<rect x="642" y="748" width="1" height="89" fill="#000"/>
<rect x="640" y="776" width="5" height="34" fill="#000"/>
<rect x="641" y="777" width="3" height="32" fill="#fff"/>
<rect x="649" y="644" width="1" height="147" fill="#000"/>
<rect x="647" y="650" width="5" height="126" fill="#000"/>
<rect x="648" y="651" width="3" height="124" fill="#fff"/>
<rect x="655" y="467" width="1" height="208" fill="#000"/>
<rect x="653" y="501" width="5" height="149" fill="#000"/>
<rect x="654" y="502" width="3" height="147" fill="#fff"/>
<rect x="662" y="344" width="1" height="168" fill="#000"/>
<rect x="660" y="463" width="5" height="38" fill="#000"/>
<rect x="661" y="464" width="3" height="36" fill="#fff"/>
<rect x="668" y="427" width="1" height="95" fill="#000"/>
<rect x="666" y="463" width="5" height="27" fill="#000"/>
<rect x="675" y="431" width="1" height="71" fill="#000"/>
<rect x="673" y="445" width="5" height="45" fill="#000"/>
<rect x="674" y="446" width="3" height="43" fill="#fff"/>
<rect x="681" y="263" width="1" height="188" fill="#000"/>
<rect x="679" y="288" width="5" height="156" fill="#000"/>
<rect x="680" y="289" width="3" height="154" fill="#fff"/>
<rect x="688" y="267" width="1" height="70" fill="#000"/>
<rect x="686" y="287" width="5" height="31" fill="#000"/>
<rect x="694" y="224" width="1" height="98" fill="#000"/>
<rect x="692" y="250" width="5" height="68" fill="#000"/>
<rect x="693" y="251" width="3" height="66" fill="#fff"/>
<rect x="701" y="218" width="1" height="84" fill="#000"/>
<rect x="699" y="250" width="5" height="15" fill="#000"/>
<rect x="707" y="217" width="1" height="72" fill="#000"/>
<rect x="705" y="242" width="5" height="22" fill="#000"/>
<rect x="706" y="243" width="3" height="20" fill="#fff"/>
<rect x="714" y="198" width="1" height="138" fill="#000"/>
<rect x="712" y="241" width="5" height="55" fill="#000"/>
<rect x="720" y="203" width="1" height="101" fill="#000"/>
<rect x="718" y="232" width="5" height="63" fill="#000"/>
<rect x="719" y="233" width="3" height="61" fill="#fff"/>
<rect x="727" y="227" width="1" height="87" fill="#000"/>
<rect x="725" y="232" width="5" height="54" fill="#000"/>
<rect x="733" y="264" width="1" height="40" fill="#000"/>
<rect x="731" y="285" width="5" height="1" fill="#000"/>
<rect x="740" y="239" width="1" height="49" fill="#000"/>
<rect x="738" y="254" width="5" height="32" fill="#000"/>
<rect x="739" y="255" width="3" height="30" fill="#fff"/>
<rect x="746" y="250" width="1" height="96" fill="#000"/>
<rect x="744" y="254" width="5" height="53" fill="#000"/>
<rect x="753" y="284" width="1" height="54" fill="#000"/>
<rect x="751" y="298" width="5" height="9" fill="#000"/>
<rect x="752" y="299" width="3" height="7" fill="#fff"/>
<rect x="759" y="215" width="1" height="84" fill="#000"/>
<rect x="757" y="232" width="5" height="66" fill="#000"/>
<rect x="758" y="233" width="3" height="64" fill="#fff"/>
<rect x="766" y="182" width="1" height="90" fill="#000"/>
<rect x="764" y="231" width="5" height="20" fill="#000"/>
<rect x="772" y="215" width="1" height="68" fill="#000"/>
<rect x="770" y="225" width="5" height="26" fill="#000"/>
<rect x="771" y="226" width="3" height="24" fill="#fff"/>
<rect x="779" y="204" width="1" height="35" fill="#000"/>
<rect x="777" y="224" width="5" height="2" fill="#000"/>
<rect x="785" y="220" width="1" height="42" fill="#000"/>
<rect x="783" y="225" width="5" height="18" fill="#000"/>
<rect x="792" y="222" width="1" height="79" fill="#000"/>
<rect x="790" y="242" width="5" height="24" fill="#000"/>
<rect x="798" y="226" width="1" height="47" fill="#000"/>
<rect x="796" y="243" width="5" height="23" fill="#000"/>
<rect x="797" y="244" width="3" height="21" fill="#fff"/>
<rect x="805" y="205" width="1" height="59" fill="#000"/>
<rect x="803" y="242" width="5" height="2" fill="#000"/>
<rect x="811" y="241" width="1" height="30" fill="#000"/>
<rect x="809" y="243" width="5" height="8" fill="#000"/>
<rect x="818" y="246" width="1" height="20" fill="#000"/>
<rect x="816" y="250" width="5" height="7" fill="#000"/>
<rect x="824" y="243" width="1" height="18" fill="#000"/>
<rect x="822" y="256" width="5" height="3" fill="#000"/>
<rect x="823" y="257" width="3" height="1" fill="#fff"/>
<rect x="831" y="220" width="1" height="45" fill="#000"/>
<rect x="829" y="233" width="5" height="24" fill="#000"/>
<rect x="830" y="234" width="3" height="22" fill="#fff"/>
<rect x="837" y="147" width="1" height="96" fill="#000"/>
<rect x="835" y="155" width="5" height="78" fill="#000"/>
<rect x="836" y="156" width="3" height="76" fill="#fff"/>
<rect x="844" y="102" width="1" height="56" fill="#000"/>
<rect x="842" y="123" width="5" height="33" fill="#000"/>
<rect x="843" y="124" width="3" height="31" fill="#fff"/>
<rect x="850" y="106" width="1" height="48" fill="#000"/>
<rect x="848" y="122" width="5" height="19" fill="#000"/>
<rect x="857" y="100" width="1" height="42" fill="#000"/>
<rect x="855" y="113" width="5" height="28" fill="#000"/>
<rect x="856" y="114" width="3" height="26" fill="#fff"/>
<rect x="863" y="76" width="1" height="58" fill="#000"/>
<rect x="861" y="107" width="5" height="6" fill="#000"/>
<rect x="862" y="108" width="3" height="4" fill="#fff"/>
<rect x="870" y="100" width="1" height="22" fill="#000"/>
<rect x="868" y="107" width="5" height="11" fill="#000"/>
<rect x="876" y="103" width="1" height="24" fill="#000"/>
<rect x="874" y="117" width="5" height="1" fill="#000"/>
<rect x="883" y="115" width="1" height="62" fill="#000"/>
<rect x="881" y="117" width="5" height="51" fill="#000"/>
<rect x="889" y="107" width="1" height="80" fill="#000"/>
<rect x="887" y="113" width="5" height="55" fill="#000"/>
<rect x="888" y="114" width="3" height="53" fill="#fff"/>
<rect x="896" y="111" width="1" height="105" fill="#000"/>
<rect x="894" y="113" width="5" height="93" fill="#000"/>
<rect x="902" y="187" width="1" height="67" fill="#000"/>
<rect x="900" y="205" width="5" height="34" fill="#000"/>
<rect x="909" y="231" width="1" height="75" fill="#000"/>
<rect x="907" y="238" width="5" height="62" fill="#000"/>
<rect x="915" y="260" width="1" height="47" fill="#000"/>
<rect x="913" y="265" width="5" height="35" fill="#000"/>
<rect x="914" y="266" width="3" height="33" fill="#fff"/>
<rect x="922" y="264" width="1" height="30" fill="#000"/>
<rect x="920" y="264" width="5" height="15" fill="#000"/>
<rect x="928" y="253" width="1" height="64" fill="#000"/>
<rect x="926" y="278" width="5" height="5" fill="#000"/>
<rect x="935" y="229" width="1" height="74" fill="#000"/>
<rect x="933" y="235" width="5" height="48" fill="#000"/>
<rect x="934" y="236" width="3" height="46" fill="#fff"/>
<rect x="941" y="132" width="1" height="169" fill="#000"/>
<rect x="939" y="227" width="5" height="8" fill="#000"/>
<rect x="940" y="228" width="3" height="6" fill="#fff"/>
<rect x="948" y="141" width="1" height="88" fill="#000"/>
<rect x="946" y="165" width="5" height="63" fill="#000"/>
<rect x="947" y="166" width="3" height="61" fill="#fff"/>
<rect x="954" y="158" width="1" height="40" fill="#000"/>
<rect x="952" y="165" width="5" height="8" fill="#000"/>
<rect x="961" y="166" width="1" height="24" fill="#000"/>
<rect x="959" y="173" width="5" height="7" fill="#000"/>
<rect x="967" y="137" width="1" height="50" fill="#000"/>
<rect x="965" y="179" width="5" height="1" fill="#000"/>
<rect x="974" y="173" width="1" height="101" fill="#000"/>
<rect x="972" y="179" width="5" height="71" fill="#000"/>
<rect x="980" y="199" width="1" height="62" fill="#000"/>
<rect x="978" y="212" width="5" height="38" fill="#000"/>
<rect x="979" y="213" width="3" height="36" fill="#fff"/>
<rect x="987" y="177" width="1" height="69" fill="#000"/>
<rect x="985" y="192" width="5" height="20" fill="#000"/>
<rect x="986" y="193" width="3" height="18" fill="#fff"/>
<rect x="993" y="171" width="1" height="42" fill="#000"/>
<rect x="991" y="191" width="5" height="12" fill="#000"/>
<rect x="1000" y="152" width="1" height="53" fill="#000"/>
<rect x="998" y="162" width="5" height="41" fill="#000"/>
<rect x="999" y="163" width="3" height="39" fill="#fff"/>
<rect x="1006" y="144" width="1" height="84" fill="#000"/>
<rect x="1004" y="162" width="5" height="37" fill="#000"/>
<rect x="1013" y="182" width="1" height="45" fill="#000"/>
<rect x="1011" y="199" width="5" height="27" fill="#000"/>
<rect x="1019" y="212" width="1" height="85" fill="#000"/>
<rect x="1017" y="225" width="5" height="48" fill="#000"/>
<rect x="1026" y="263" width="1" height="29" fill="#000"/>
<rect x="1024" y="272" width="5" height="3" fill="#000"/>
<rect x="1032" y="233" width="1" height="95" fill="#000"/>
<rect x="1030" y="275" width="5" height="1" fill="#000"/>
<rect x="1039" y="274" width="1" height="60" fill="#000"/>
<rect x="1037" y="277" width="5" height="39" fill="#000"/>
<rect x="1045" y="309" width="1" height="84" fill="#000"/>
<rect x="1043" y="316" width="5" height="12" fill="#000"/>
<rect x="1052" y="312" width="1" height="23" fill="#000"/>
<rect x="1050" y="328" width="5" height="1" fill="#000"/>
<rect x="1058" y="302" width="1" height="40" fill="#000"/>
<rect x="1056" y="321" width="5" height="8" fill="#000"/>
<rect x="1057" y="322" width="3" height="6" fill="#fff"/>
<rect x="1065" y="273" width="1" height="59" fill="#000"/>
<rect x="1063" y="306" width="5" height="14" fill="#000"/>
<rect x="1064" y="307" width="3" height="12" fill="#fff"/>
<rect x="1071" y="296" width="1" height="28" fill="#000"/>
<rect x="1069" y="305" width="5" height="8" fill="#000"/>
<rect x="1078" y="283" width="1" height="62" fill="#000"/>
<rect x="1076" y="290" width="5" height="23" fill="#000"/>
<rect x="1077" y="291" width="3" height="21" fill="#fff"/>
<rect x="1084" y="285" width="1" height="71" fill="#000"/>
<rect x="1082" y="290" width="5" height="37" fill="#000"/>
<rect x="1091" y="303" width="1" height="36" fill="#000"/>
<rect x="1089" y="322" width="5" height="5" fill="#000"/>
<rect x="1090" y="323" width="3" height="3" fill="#fff"/>
<rect x="1097" y="304" width="1" height="22" fill="#000"/>
<rect x="1095" y="308" width="5" height="14" fill="#000"/>
<rect x="1096" y="309" width="3" height="12" fill="#fff"/>
<rect x="1104" y="297" width="1" height="40" fill="#000"/>
<rect x="1102" y="308" width="5" height="23" fill="#000"/>
<rect x="1110" y="309" width="1" height="36" fill="#000"/>
<rect x="1108" y="326" width="5" height="5" fill="#000"/>
<rect x="1109" y="327" width="3" height="3" fill="#fff"/>
<rect x="1117" y="284" width="1" height="44" fill="#000"/>
<rect x="1115" y="302" width="5" height="24" fill="#000"/>
<rect x="1116" y="303" width="3" height="22" fill="#fff"/>
<rect x="1123" y="301" width="1" height="74" fill="#000"/>
<rect x="1121" y="301" width="5" height="58" fill="#000"/>
<rect x="1130" y="339" width="1" height="50" fill="#000"/>
<rect x="1128" y="350" width="5" height="9" fill="#000"/>
<rect x="1129" y="351" width="3" height="7" fill="#fff"/>
<rect x="1136" y="320" width="1" height="37" fill="#000"/>
<rect x="1134" y="334" width="5" height="16" fill="#000"/>
<rect x="1135" y="335" width="3" height="14" fill="#fff"/>
<rect x="1143" y="319" width="1" height="25" fill="#000"/>
<rect x="1141" y="325" width="5" height="9" fill="#000"/>
<rect x="1142" y="326" width="3" height="7" fill="#fff"/>
<rect x="1149" y="236" width="1" height="92" fill="#000"/>
<rect x="1147" y="249" width="5" height="75" fill="#000"/>
<rect x="1148" y="250" width="3" height="73" fill="#fff"/>
<rect x="1156" y="225" width="1" height="57" fill="#000"/>
<rect x="1154" y="249" width="5" height="20" fill="#000"/>
<rect x="1162" y="250" width="1" height="31" fill="#000"/>
<rect x="1160" y="269" width="5" height="3" fill="#000"/>
<rect x="1169" y="263" width="1" height="62" fill="#000"/>
<rect x="1167" y="272" width="5" height="30" fill="#000"/>
<rect x="1175" y="293" width="1" height="47" fill="#000"/>
<rect x="1173" y="301" width="5" height="26" fill="#000"/>
<rect x="1182" y="296" width="1" height="50" fill="#000"/>
<rect x="1180" y="300" width="5" height="26" fill="#000"/>
<rect x="1181" y="301" width="3" height="24" fill="#fff"/>
<rect x="1188" y="294" width="1" height="26" fill="#000"/>
<rect x="1186" y="300" width="5" height="11" fill="#000"/>
<rect x="1195" y="286" width="1" height="32" fill="#000"/>
<rect x="1193" y="309" width="5" height="3" fill="#000"/>
<rect x="1194" y="310" width="3" height="1" fill="#fff"/>
<rect x="1201" y="307" width="1" height="113" fill="#000"/>
<rect x="1199" y="308" width="5" height="90" fill="#000"/>
<rect x="1208" y="292" width="1" height="131" fill="#000"/>
<rect x="1206" y="300" width="5" height="97" fill="#000"/>
<rect x="1207" y="301" width="3" height="95" fill="#fff"/>
<rect x="1214" y="290" width="1" height="82" fill="#000"/>
<rect x="1212" y="300" width="5" height="57" fill="#000"/>
<rect x="1221" y="327" width="1" height="39" fill="#000"/>
<rect x="1219" y="348" width="5" height="9" fill="#000"/>
<rect x="1220" y="349" width="3" height="7" fill="#fff"/>
<rect x="1227" y="329" width="1" height="32" fill="#000"/>
<rect x="1225" y="347" width="5" height="3" fill="#000"/>
<rect x="1234" y="345" width="1" height="76" fill="#000"/>
<rect x="1232" y="349" width="5" height="40" fill="#000"/>
<rect x="1240" y="366" width="1" height="37" fill="#000"/>
<rect x="1238" y="384" width="5" height="5" fill="#000"/>
<rect x="1239" y="385" width="3" height="3" fill="#fff"/>
<rect x="1247" y="373" width="1" height="31" fill="#000"/>
<rect x="1245" y="384" width="5" height="2" fill="#000"/>
<rect x="1253" y="352" width="1" height="47" fill="#000"/>
<rect x="1251" y="385" width="5" height="2" fill="#000"/>
<rect x="1260" y="374" width="1" height="85" fill="#000"/>
<rect x="1258" y="385" width="5" height="54" fill="#000"/>
<rect x="1266" y="397" width="1" height="67" fill="#000"/>
<rect x="1264" y="410" width="5" height="29" fill="#000"/>
<rect x="1265" y="411" width="3" height="27" fill="#fff"/>
<rect x="1273" y="349" width="1" height="88" fill="#000"/>
<rect x="1271" y="358" width="5" height="51" fill="#000"/>
<rect x="1272" y="359" width="3" height="49" fill="#fff"/>
<rect x="1279" y="329" width="1" height="40" fill="#000"/>
<rect x="1277" y="348" width="5" height="10" fill="#000"/>
<rect x="1278" y="349" width="3" height="8" fill="#fff"/>
<rect x="1286" y="335" width="1" height="28" fill="#000"/>
<rect x="1284" y="347" width="5" height="11" fill="#000"/>
<rect x="1292" y="313" width="1" height="51" fill="#000"/>
<rect x="1290" y="327" width="5" height="31" fill="#000"/>
<rect x="1291" y="328" width="3" height="29" fill="#fff"/>
<rect x="1299" y="228" width="1" height="110" fill="#000"/>
<rect x="1297" y="234" width="5" height="92" fill="#000"/>
<rect x="1298" y="235" width="3" height="90" fill="#fff"/>
<rect x="1305" y="90" width="1" height="147" fill="#000"/>
<rect x="1303" y="136" width="5" height="98" fill="#000"/>
<rect x="1304" y="137" width="3" height="96" fill="#fff"/>
<rect x="1312" y="106" width="1" height="56" fill="#000"/>
<rect x="1310" y="136" width="5" height="6" fill="#000"/>
<rect x="1318" y="55" width="1" height="91" fill="#000"/>
<rect x="1316" y="95" width="5" height="47" fill="#000"/>
<rect x="1317" y="96" width="3" height="45" fill="#fff"/>
<rect x="1325" y="89" width="1" height="31" fill="#000"/>
<rect x="1323" y="95" width="5" height="9" fill="#000"/>
<rect x="1331" y="76" width="1" height="43" fill="#000"/>
<rect x="1329" y="104" width="5" height="4" fill="#000"/>
<rect x="1338" y="98" width="1" height="43" fill="#000"/>
<rect x="1336" y="108" width="5" height="12" fill="#000"/>
<rect x="1344" y="78" width="1" height="44" fill="#000"/>
<rect x="1342" y="97" width="5" height="23" fill="#000"/>
<rect x="1343" y="98" width="3" height="21" fill="#fff"/>
<rect x="1351" y="95" width="1" height="49" fill="#000"/>
<rect x="1349" y="96" width="5" height="35" fill="#000"/>
<rect x="1357" y="88" width="1" height="45" fill="#000"/>
<rect x="1355" y="110" width="5" height="21" fill="#000"/>
<rect x="1356" y="111" width="3" height="19" fill="#fff"/>
<rect x="1364" y="64" width="1" height="105" fill="#000"/>
<rect x="1362" y="109" width="5" height="1" fill="#000"/>
<rect x="1370" y="98" width="1" height="19" fill="#000"/>
<rect x="1368" y="103" width="5" height="6" fill="#000"/>
<rect x="1369" y="104" width="3" height="4" fill="#fff"/>
<rect x="1377" y="91" width="1" height="35" fill="#000"/>
<rect x="1375" y="101" width="5" height="2" fill="#000"/>
<rect x="1383" y="57" width="1" height="46" fill="#000"/>
<rect x="1381" y="70" width="5" height="32" fill="#000"/>
<rect x="1382" y="71" width="3" height="30" fill="#fff"/>
<rect x="1390" y="61" width="1" height="39" fill="#000"/>
<rect x="1388" y="70" width="5" height="22" fill="#000"/>
<rect x="1396" y="86" width="1" height="39" fill="#000"/>
<rect x="1394" y="92" width="5" height="15" fill="#000"/>
<rect x="1403" y="50" width="1" height="94" fill="#000"/>
<rect x="1401" y="107" width="5" height="35" fill="#000"/>
<rect x="1409" y="109" width="1" height="43" fill="#000"/>
<rect x="1407" y="115" width="5" height="26" fill="#000"/>
<rect x="1408" y="116" width="3" height="24" fill="#fff"/>
<rect x="1416" y="113" width="1" height="20" fill="#000"/>
<rect x="1414" y="116" width="5" height="4" fill="#000"/>
<rect x="1422" y="110" width="1" height="21" fill="#000"/>
<rect x="1420" y="119" width="5" height="7" fill="#000"/>
<rect x="1429" y="76" width="1" height="62" fill="#000"/>
<rect x="1427" y="113" width="5" height="13" fill="#000"/>
<rect x="1428" y="114" width="3" height="11" fill="#fff"/>
<rect x="1435" y="90" width="1" height="28" fill="#000"/>
<rect x="1433" y="100" width="5" height="13" fill="#000"/>
<rect x="1434" y="101" width="3" height="11" fill="#fff"/>
<rect x="1442" y="79" width="1" height="45" fill="#000"/>
<rect x="1440" y="100" width="5" height="15" fill="#000"/>
<rect x="1448" y="32" width="1" height="88" fill="#000"/>
<rect x="1446" y="53" width="5" height="62" fill="#000"/>
<rect x="1447" y="54" width="3" height="60" fill="#fff"/>
<rect x="1455" y="44" width="1" height="96" fill="#000"/>
<rect x="1453" y="53" width="5" height="65" fill="#000"/>
<rect x="1461" y="112" width="1" height="9" fill="#000"/>
<rect x="1459" y="117" width="5" height="2" fill="#000"/>
<rect x="1468" y="109" width="1" height="22" fill="#000"/>
<rect x="1466" y="118" width="5" height="3" fill="#000"/>
<rect x="1474" y="116" width="1" height="38" fill="#000"/>
<rect x="1472" y="121" width="5" height="7" fill="#000"/>
<rect x="1481" y="121" width="1" height="42" fill="#000"/>
<rect x="1479" y="127" width="5" height="16" fill="#000"/>
<rect x="1487" y="124" width="1" height="25" fill="#000"/>
<rect x="1485" y="140" width="5" height="3" fill="#000"/>
<rect x="1486" y="141" width="3" height="1" fill="#fff"/>
<rect x="1494" y="111" width="1" height="49" fill="#000"/>
<rect x="1492" y="140" width="5" height="7" fill="#000"/>
<rect x="1500" y="132" width="1" height="19" fill="#000"/>
<rect x="1498" y="141" width="5" height="6" fill="#000"/>
<rect x="1499" y="142" width="3" height="4" fill="#fff"/>
<rect x="1507" y="135" width="1" height="22" fill="#000"/>
<rect x="1505" y="141" width="5" height="7" fill="#000"/>
<rect x="1513" y="115" width="1" height="35" fill="#000"/>
<rect x="1511" y="132" width="5" height="16" fill="#000"/>
<rect x="1512" y="133" width="3" height="14" fill="#fff"/>
<rect x="1520" y="130" width="1" height="72" fill="#000"/>
<rect x="1518" y="131" width="5" height="53" fill="#000"/>
<rect x="1526" y="171" width="1" height="20" fill="#000"/>
<rect x="1524" y="180" width="5" height="4" fill="#000"/>
<rect x="1525" y="181" width="3" height="2" fill="#fff"/>
<rect x="1533" y="153" width="1" height="35" fill="#000"/>
<rect x="1531" y="173" width="5" height="7" fill="#000"/>
<rect x="1532" y="174" width="3" height="5" fill="#fff"/>
<rect x="1539" y="160" width="1" height="29" fill="#000"/>
<rect x="1537" y="173" width="5" height="9" fill="#000"/>
<rect x="1546" y="162" width="1" height="24" fill="#000"/>
<rect x="1544" y="176" width="5" height="6" fill="#000"/>
<rect x="1545" y="177" width="3" height="4" fill="#fff"/>
<rect x="1552" y="169" width="1" height="9" fill="#000"/>
<rect x="1550" y="173" width="5" height="3" fill="#000"/>
<rect x="1551" y="174" width="3" height="1" fill="#fff"/>
<rect x="1559" y="167" width="1" height="24" fill="#000"/>
<rect x="1557" y="173" width="5" height="5" fill="#000"/>
<rect x="1565" y="162" width="1" height="24" fill="#000"/>
<rect x="1563" y="177" width="5" height="4" fill="#000"/>
<rect x="1572" y="151" width="1" height="73" fill="#000"/>
<rect x="1570" y="153" width="5" height="28" fill="#000"/>
<rect x="1571" y="154" width="3" height="26" fill="#fff"/>
<rect x="1578" y="133" width="1" height="66" fill="#000"/>
<rect x="1576" y="153" width="5" height="31" fill="#000"/>
<rect x="1585" y="170" width="1" height="27" fill="#000"/>
<rect x="1583" y="183" width="5" height="2" fill="#000"/>
<rect x="1591" y="175" width="1" height="33" fill="#000"/>
<rect x="1589" y="183" width="5" height="6" fill="#000"/>
<rect x="1598" y="186" width="1" height="10" fill="#000"/>
<rect x="1596" y="189" width="5" height="2" fill="#000"/>
<rect x="1604" y="184" width="1" height="12" fill="#000"/>
<rect x="1602" y="190" width="5" height="1" fill="#000"/>
<rect x="1611" y="179" width="1" height="34" fill="#000"/>
<rect x="1609" y="184" width="5" height="8" fill="#000"/>
<rect x="1610" y="185" width="3" height="6" fill="#fff"/>
<rect x="1617" y="123" width="1" height="64" fill="#000"/>
<rect x="1615" y="149" width="5" height="35" fill="#000"/>
<rect x="1616" y="150" width="3" height="33" fill="#fff"/>
<rect x="1624" y="128" width="1" height="45" fill="#000"/>
<rect x="1622" y="149" width="5" height="11" fill="#000"/>
<rect x="1630" y="152" width="1" height="23" fill="#000"/>
<rect x="1628" y="160" width="5" height="9" fill="#000"/>
<rect x="1637" y="162" width="1" height="19" fill="#000"/>
<rect x="1635" y="169" width="5" height="2" fill="#000"/>
<rect x="1643" y="165" width="1" height="8" fill="#000"/>
<rect x="1641" y="170" width="5" height="1" fill="#000"/>
<rect x="1650" y="167" width="1" height="12" fill="#000"/>
<rect x="1648" y="170" width="5" height="8" fill="#000"/>
<rect x="1656" y="154" width="1" height="35" fill="#000"/>
<rect x="1654" y="171" width="5" height="7" fill="#000"/>
<rect x="1655" y="172" width="3" height="5" fill="#fff"/>
<rect x="1663" y="166" width="1" height="25" fill="#000"/>
<rect x="1661" y="171" width="5" height="13" fill="#000"/>
<rect x="1669" y="180" width="1" height="32" fill="#000"/>
<rect x="1667" y="183" width="5" height="29" fill="#000"/>
<rect x="1676" y="208" width="1" height="222" fill="#000"/>
<rect x="1674" y="211" width="5" height="128" fill="#000"/>
<rect x="1682" y="326" width="1" height="80" fill="#000"/>
<rect x="1680" y="339" width="5" height="38" fill="#000"/>
<rect x="1689" y="362" width="1" height="32" fill="#000"/>
<rect x="1687" y="375" width="5" height="3" fill="#000"/>
<rect x="1688" y="376" width="3" height="1" fill="#fff"/>
<rect x="1695" y="361" width="1" height="21" fill="#000"/>
<rect x="1693" y="369" width="5" height="5" fill="#000"/>
<rect x="1694" y="370" width="3" height="3" fill="#fff"/>
<rect x="1702" y="363" width="1" height="29" fill="#000"/>
<rect x="1700" y="369" width="5" height="3" fill="#000"/>
<rect x="1708" y="370" width="1" height="53" fill="#000"/>
<rect x="1706" y="372" width="5" height="5" fill="#000"/>
<rect x="1715" y="327" width="1" height="66" fill="#000"/>
<rect x="1713" y="352" width="5" height="25" fill="#000"/>
<rect x="1714" y="353" width="3" height="23" fill="#fff"/>
<rect x="1721" y="343" width="1" height="47" fill="#000"/>
<rect x="1719" y="352" width="5" height="17" fill="#000"/>
<rect x="1728" y="361" width="1" height="36" fill="#000"/>
<rect x="1726" y="369" width="5" height="8" fill="#000"/>
<rect x="1734" y="372" width="1" height="10" fill="#000"/>
<rect x="1732" y="377" width="5" height="2" fill="#000"/>
<rect x="1741" y="369" width="1" height="14" fill="#000"/>
<rect x="1739" y="374" width="5" height="5" fill="#000"/>
<rect x="1740" y="375" width="3" height="3" fill="#fff"/>
<rect x="1747" y="365" width="1" height="25" fill="#000"/>
<rect x="1745" y="373" width="5" height="2" fill="#000"/>
<rect x="1754" y="242" width="1" height="144" fill="#000"/>
<rect x="1752" y="271" width="5" height="102" fill="#000"/>
<rect x="1753" y="272" width="3" height="100" fill="#fff"/>
<rect x="1760" y="267" width="1" height="47" fill="#000"/>
<rect x="1758" y="271" width="5" height="26" fill="#000"/>
<rect x="1767" y="279" width="1" height="123" fill="#000"/>
<rect x="1765" y="296" width="5" height="88" fill="#000"/>
<rect x="1773" y="371" width="1" height="55" fill="#000"/>
<rect x="1771" y="385" width="5" height="10" fill="#000"/>
<rect x="1780" y="381" width="1" height="18" fill="#000"/>
<rect x="1778" y="390" width="5" height="4" fill="#000"/>
<rect x="1779" y="391" width="3" height="2" fill="#fff"/>
<rect x="1786" y="372" width="1" height="22" fill="#000"/>
<rect x="1784" y="382" width="5" height="8" fill="#000"/>
<rect x="1785" y="383" width="3" height="6" fill="#fff"/>
<rect x="1792" y="374" width="1" height="31" fill="#000"/>
<rect x="1790" y="382" width="5" height="11" fill="#000"/>
<rect x="1799" y="388" width="1" height="22" fill="#000"/>
<rect x="1797" y="392" width="5" height="3" fill="#000"/>
<rect x="1805" y="378" width="1" height="45" fill="#000"/>
<rect x="1803" y="394" width="5" height="4" fill="#000"/>
<rect x="1812" y="351" width="1" height="56" fill="#000"/>
<rect x="1810" y="362" width="5" height="36" fill="#000"/>
<rect x="1811" y="363" width="3" height="34" fill="#fff"/>
<rect x="1818" y="350" width="1" height="54" fill="#000"/>
<rect x="1816" y="362" width="5" height="25" fill="#000"/>
<rect x="1825" y="384" width="1" height="10" fill="#000"/>
<rect x="1823" y="386" width="5" height="1" fill="#000"/>
<rect x="1831" y="378" width="1" height="30" fill="#000"/>
<rect x="1829" y="387" width="5" height="4" fill="#000"/>
<rect x="1838" y="387" width="1" height="67" fill="#000"/>
<rect x="1836" y="391" width="5" height="47" fill="#000"/>
<rect x="1844" y="344" width="1" height="95" fill="#000"/>
<rect x="1842" y="391" width="5" height="47" fill="#000"/>
<rect x="1843" y="392" width="3" height="45" fill="#fff"/>
<rect x="1851" y="353" width="1" height="43" fill="#000"/>
<rect x="1849" y="365" width="5" height="26" fill="#000"/>
<rect x="1850" y="366" width="3" height="24" fill="#fff"/>
<rect x="1857" y="365" width="1" height="1" fill="#000"/>
<rect x="1855" y="365" width="5" height="1" fill="#000"/>
</g>
<!-- arrow -->
<g id="arrow">
<line x1="1663.3" y1="1007.7" x2="1897" y2="1058.4" stroke="#000" stroke-width="2"/>
<polygon points="1914.4,1062.2 1895.6,1051.8 1892.4,1065.2" fill="#000"/>
</g>
<!-- axes -->
<g shape-rendering="crispEdges">
<rect x="2388" y="32" width="1" height="1140" fill="#74777f"/>
<rect x="0" y="1147" width="2453" height="1" fill="#74777f"/>
</g>
<g id="priceticks" font-size="12" fill="#131722">
<text x="2396.4" y="56.6" textLength="48" lengthAdjust="spacingAndGlyphs">31500.00</text>
<text x="2396.4" y="100.6" textLength="48" lengthAdjust="spacingAndGlyphs">30700.00</text>
<text x="2396.4" y="145.8" textLength="48" lengthAdjust="spacingAndGlyphs">29900.00</text>
<text x="2396.4" y="192.1" textLength="48" lengthAdjust="spacingAndGlyphs">29100.00</text>
<text x="2396.4" y="239.8" textLength="48" lengthAdjust="spacingAndGlyphs">28300.00</text>
<text x="2396.4" y="288.9" textLength="48" lengthAdjust="spacingAndGlyphs">27500.00</text>
<text x="2396.4" y="339.4" textLength="48" lengthAdjust="spacingAndGlyphs">26700.00</text>
<text x="2396.4" y="391.4" textLength="48" lengthAdjust="spacingAndGlyphs">25900.00</text>
<text x="2396.4" y="424.7" textLength="48" lengthAdjust="spacingAndGlyphs">25400.00</text>
<text x="2396.4" y="493.4" textLength="48" lengthAdjust="spacingAndGlyphs">24400.00</text>
<text x="2396.4" y="528.8" textLength="48" lengthAdjust="spacingAndGlyphs">23900.00</text>
<text x="2396.4" y="572.3" textLength="48" lengthAdjust="spacingAndGlyphs">23300.00</text>
<text x="2396.4" y="616.9" textLength="48" lengthAdjust="spacingAndGlyphs">22700.00</text>
<text x="2396.4" y="647.4" textLength="48" lengthAdjust="spacingAndGlyphs">22300.00</text>
<text x="2396.4" y="678.3" textLength="48" lengthAdjust="spacingAndGlyphs">21900.00</text>
<text x="2396.4" y="709.8" textLength="48" lengthAdjust="spacingAndGlyphs">21500.00</text>
<text x="2396.4" y="742.0" textLength="48" lengthAdjust="spacingAndGlyphs">21100.00</text>
<text x="2396.4" y="774.7" textLength="48" lengthAdjust="spacingAndGlyphs">20700.00</text>
<text x="2396.4" y="808.1" textLength="48" lengthAdjust="spacingAndGlyphs">20300.00</text>
<text x="2396.4" y="842.1" textLength="48" lengthAdjust="spacingAndGlyphs">19900.00</text>
<text x="2396.4" y="876.8" textLength="48" lengthAdjust="spacingAndGlyphs">19500.00</text>
<text x="2396.4" y="912.3" textLength="48" lengthAdjust="spacingAndGlyphs">19100.00</text>
<text x="2396.4" y="948.5" textLength="48" lengthAdjust="spacingAndGlyphs">18700.00</text>
<text x="2396.4" y="985.5" textLength="48" lengthAdjust="spacingAndGlyphs">18300.00</text>
<text x="2396.4" y="1018.5" textLength="48" lengthAdjust="spacingAndGlyphs">17950.00</text>
<text x="2396.4" y="1052.2" textLength="48" lengthAdjust="spacingAndGlyphs">17600.00</text>
<text x="2396.4" y="1080.6" textLength="48" lengthAdjust="spacingAndGlyphs">17310.00</text>
<text x="2396.4" y="1112.5" textLength="48" lengthAdjust="spacingAndGlyphs">16990.00</text>
<text x="2396.4" y="1143.0" textLength="48" lengthAdjust="spacingAndGlyphs">16690.00</text>
</g>
<g id="pricelabels" font-size="12" font-weight="bold" fill="#fff">
<path d="M2388 168h60a2 2 0 0 1 2 2v13a2 2 0 0 1-2 2h-60z" fill="#e91e63"/>
<text x="2396.2" y="180.7" textLength="48" lengthAdjust="spacingAndGlyphs">29301.56</text>
<path d="M2388 357h60a2 2 0 0 1 2 2v27a2 2 0 0 1-2 2h-60z" fill="#000"/>
<text x="2396.2" y="370" textLength="48" lengthAdjust="spacingAndGlyphs">26227.15</text>
<text x="2396.2" y="384" fill="#c8c8c8" textLength="46.5" lengthAdjust="spacingAndGlyphs">23:59:58</text>
<path d="M2388 444h60a2 2 0 0 1 2 2v13a2 2 0 0 1-2 2h-60z" fill="#4caf50"/>
<text x="2396.2" y="456.7" textLength="48" lengthAdjust="spacingAndGlyphs">24929.99</text>
<path d="M2388 944h60a2 2 0 0 1 2 2v13a2 2 0 0 1-2 2h-60z" fill="#4caf50"/>
<text x="2396.2" y="956.7" textLength="48" lengthAdjust="spacingAndGlyphs">18603.00</text>
<path d="M2388 1042h60a2 2 0 0 1 2 2v13a2 2 0 0 1-2 2h-60z" fill="#4caf50"/>
<text x="2396.2" y="1054.7" textLength="48" lengthAdjust="spacingAndGlyphs">17567.45</text>
<path d="M2388 1131h18a2 2 0 0 1 2 2v14h-20z" fill="#f0514f"/>
<text x="2399" y="1143.8" text-anchor="middle">0</text>
</g>
<g id="timeticks" font-size="11.5" fill="#131722">
<text x="109.2" y="1164.6" text-anchor="middle">19</text>
<text x="193.7" y="1164.6" font-weight="bold" text-anchor="middle">2023</text>
<text x="291.2" y="1164.6" text-anchor="middle">16</text>
<text x="395.1" y="1164.6" text-anchor="middle">Feb</text>
<text x="479.6" y="1164.6" text-anchor="middle">14</text>
<text x="577.1" y="1164.6" text-anchor="middle">Mar</text>
<text x="661.5" y="1164.6" text-anchor="middle">14</text>
<text x="778.5" y="1164.6" text-anchor="middle">Apr</text>
<text x="882.4" y="1164.6" text-anchor="middle">17</text>
<text x="973.4" y="1164.6" text-anchor="middle">May</text>
<text x="1064.4" y="1164.6" text-anchor="middle">15</text>
<text x="1174.8" y="1164.6" text-anchor="middle">Jun</text>
<text x="1259.3" y="1164.6" text-anchor="middle">14</text>
<text x="1369.7" y="1164.6" text-anchor="middle">Jul</text>
<text x="1473.7" y="1164.6" text-anchor="middle">17</text>
<text x="1571.2" y="1164.6" text-anchor="middle">Aug</text>
<text x="1655.6" y="1164.6" text-anchor="middle">14</text>
<text x="1772.6" y="1164.6" text-anchor="middle">Sep</text>
<text x="1883.0" y="1164.6" text-anchor="middle">18</text>
<text x="1967.5" y="1164.6" text-anchor="middle">Oct</text>
<text x="2065.0" y="1164.6" text-anchor="middle">16</text>
<text x="2168.9" y="1164.6" text-anchor="middle">Nov</text>
<text x="2253.4" y="1164.6" text-anchor="middle">14</text>
<text x="2363.9" y="1164.6" text-anchor="middle">Dec</text>
</g>
<!-- settings icon -->
<g fill="none" stroke="#131722" stroke-width="1.3">
<path d="M2418.4 1155.7h6.8l3.4 6.3-3.4 6.3h-6.8l-3.4-6.3z"/>
<circle cx="2421.8" cy="1162" r="1.9"/>
</g>
<!-- USD box -->
<rect x="2392.5" y="2.5" width="57" height="25" rx="2.5" fill="#fff" stroke="#e6e7ec"/>
<text x="2397" y="18.8" font-size="12" fill="#131722" textLength="19.5" lengthAdjust="spacingAndGlyphs">USD</text>
<path d="M2439.9 14.3l2.6 2.4 2.6-2.4" fill="none" stroke="#131722" stroke-width="1.4"/>
<!-- header -->
<circle cx="17.1" cy="14" r="9" fill="#f7931a"/>
<g transform="rotate(13 17 14)" fill="#fff">
<text x="17.3" y="18" font-size="10.5" font-weight="bold" text-anchor="middle">B</text>
<rect x="15.2" y="8.6" width="1" height="2.2"/><rect x="17.4" y="8.6" width="1" height="2.2"/>
<rect x="15.2" y="17.4" width="1" height="2.2"/><rect x="17.4" y="17.4" width="1" height="2.2"/>
</g>
<text y="19.6" font-size="15.2" fill="#131722"><tspan x="30" textLength="48.5" lengthAdjust="spacingAndGlyphs">Bitcoin</tspan> <tspan x="86.2">/</tspan> <tspan x="97.8" textLength="28.6" lengthAdjust="spacingAndGlyphs">U.S.</tspan> <tspan x="132.5" textLength="41.8" lengthAdjust="spacingAndGlyphs">Dollar</tspan> <tspan x="178.6">·</tspan> <tspan x="187.5" textLength="16.5" lengthAdjust="spacingAndGlyphs">1D</tspan> <tspan x="209.2">·</tspan> <tspan x="217" textLength="69.4" lengthAdjust="spacingAndGlyphs">COINBASE</tspan></text>
<circle cx="311" cy="14" r="8" fill="#089981" fill-opacity="0.14"/>
<circle cx="311" cy="14" r="4" fill="#089981"/>
<text x="337" y="18.8" font-size="12.2" fill="#131722" textLength="84" lengthAdjust="spacingAndGlyphs">+0.50 (+0.00%)</text>
<rect x="8.5" y="28.5" width="31" height="20" rx="3.5" fill="#fff" stroke="#dcdbe4"/>
<path d="M14.2 36.8l4.2 3.8 4.2-3.8" fill="none" stroke="#131722" stroke-width="1.5"/>
<text x="31.5" y="43" font-size="12" fill="#131722" text-anchor="middle">3</text>
<!-- TV logo -->
<g id="tvlogo">
<g fill="#fff" stroke="#fff" stroke-width="3" stroke-linejoin="miter">
<path d="M11 1118.1H22.85V1132.8H17V1123.7H11Z"/>
<circle cx="27.9" cy="1120.9" r="3"/>
<path d="M33.8 1118.1H40.75L35 1132.8H28.2Z"/>
</g>
<g fill="#171b26">
<path d="M11 1118.1H22.85V1132.8H17V1123.7H11Z"/>
<circle cx="27.9" cy="1120.9" r="3"/>
<path d="M33.8 1118.1H40.75L35 1132.8H28.2Z"/>
</g>
</g>
</svg>
</div>
</body>
</html>
